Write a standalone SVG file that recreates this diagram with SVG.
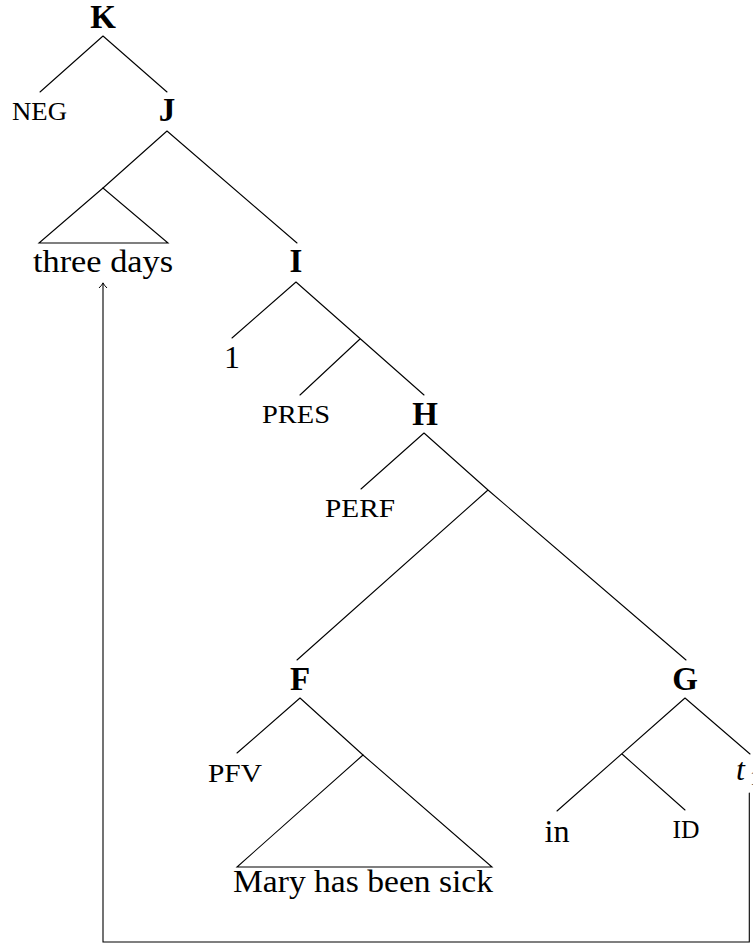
<svg xmlns="http://www.w3.org/2000/svg" width="753" height="943" viewBox="0 0 753 943">
<style>
.e{stroke:#000;stroke-width:1.1;fill:none;stroke-linecap:round}
.b{font-family:"Liberation Serif","DejaVu Serif",serif;font-weight:bold;font-size:33px;text-anchor:middle}
.r{font-family:"Liberation Serif","DejaVu Serif",serif;font-size:32px;text-anchor:middle}
.s{font-family:"Liberation Serif","DejaVu Serif",serif;font-size:25px;text-anchor:middle}
.i{font-family:"Liberation Serif","DejaVu Serif",serif;font-size:32px;font-style:italic}
</style>
<defs>
<marker id="ar" viewBox="-6 -5 8 10" refX="0" refY="0" markerWidth="8" markerHeight="10" markerUnits="userSpaceOnUse" orient="auto">
<path d="M-5,-4 Q-2,-1 0,0 Q-2,1 -5,4" fill="none" stroke="#000" stroke-width="1"/>
</marker>
</defs>
<rect width="753" height="943" fill="#fff"/>
<g id="edges">
<path class="e" d="M103,36 L40,92 M103,36 L167,92"/>
<path class="e" d="M167,131 L103,188 M167,131 L297,243"/>
<path class="e" d="M103,188 L39,243 L168,243 Z"/>
<path class="e" d="M296,282 L232,338 M296,282 L424,395 M360,339 L300,395"/>
<path class="e" d="M424,433 L361,489 M424,433 L488,490 M488,490 L297,660 M488,490 L686,660"/>
<path class="e" d="M300,698 L237,753 M300,698 L363,755"/>
<path class="e" d="M363,755 L237,867 L492,867 Z"/>
<path class="e" d="M685,698 L557,811 M622,754 L685,810 M685,698 L750,754"/>
</g>
<g id="movement">
<path class="e" d="M749.3,793 L749.3,942 L103,942 L103,283" marker-end="url(#ar)"/>
</g>
<g id="K"><text class="b" x="103" y="28">K</text></g>
<g id="NEG"><text class="s" x="39.5" y="120" textLength="55" lengthAdjust="spacingAndGlyphs">NEG</text></g>
<g id="J"><text class="b" x="167" y="121">J</text></g>
<g id="three-days"><text class="r" x="103" y="272" textLength="140" lengthAdjust="spacingAndGlyphs">three days</text></g>
<g id="I"><text class="b" x="296" y="272">I</text></g>
<g id="one"><text class="r" x="232" y="368">1</text></g>
<g id="PRES"><text class="s" x="296" y="423" textLength="68" lengthAdjust="spacingAndGlyphs">PRES</text></g>
<g id="H"><text class="b" x="425" y="425">H</text></g>
<g id="PERF"><text class="s" x="360" y="517" textLength="70" lengthAdjust="spacingAndGlyphs">PERF</text></g>
<g id="F"><text class="b" x="300" y="690">F</text></g>
<g id="PFV"><text class="s" x="235" y="782" textLength="54" lengthAdjust="spacingAndGlyphs">PFV</text></g>
<g id="Mary"><text class="r" x="363" y="892" textLength="260" lengthAdjust="spacingAndGlyphs">Mary has been sick</text></g>
<g id="G"><text class="b" x="685" y="690">G</text></g>
<g id="in"><text class="r" x="557" y="842" textLength="25" lengthAdjust="spacingAndGlyphs">in</text></g>
<g id="ID"><text class="s" x="686" y="838" textLength="27" lengthAdjust="spacingAndGlyphs">ID</text></g>
<g id="trace"><text class="i" x="736" y="780">t<tspan font-size="21" font-style="normal" x="750" dy="5">1</tspan></text></g>
</svg>
